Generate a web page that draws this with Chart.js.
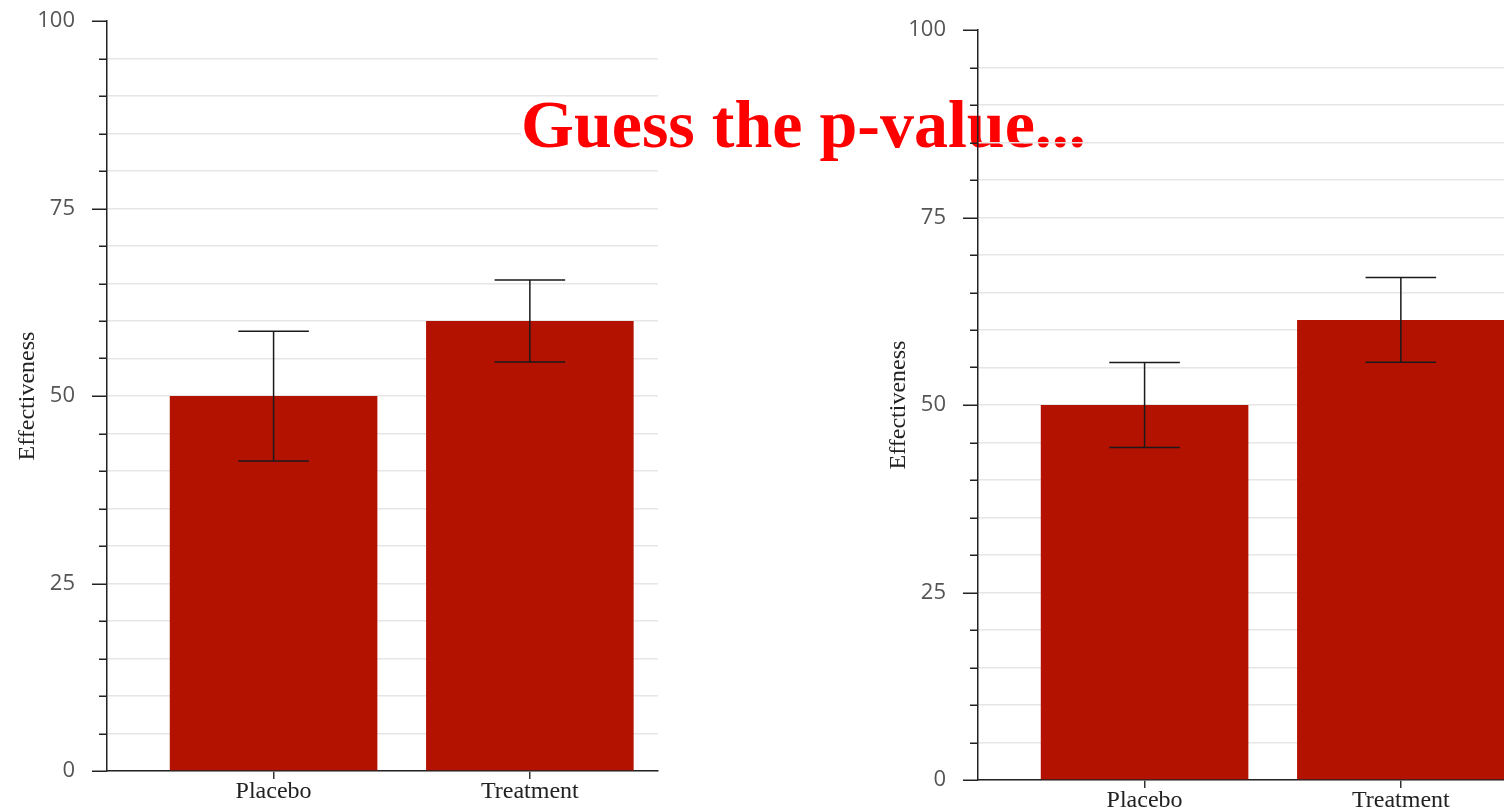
<!DOCTYPE html>
<html lang="en">
<head>
<meta charset="UTF-8">
<title>Guess the p-value</title>
<style>
    html, body {
        margin: 0;
        padding: 0;
        width: 1504px;
        height: 809px;
        overflow: hidden;
        background: #fff;
    }
    canvas { position: absolute; }
    #leftChart { left: 0; top: 0; }
    #rightChart { left: 871px; top: 9px; z-index: 2; }
    #title {
        position: absolute;
        left: 521px;
        top: 97px;
        z-index: 1;
        font: bold 68px "Liberation Serif", "Times New Roman", serif;
        line-height: 0.8;
        color: #ff0000;
        background: #fff;
        white-space: nowrap;
    }
</style>
</head>
<body>
<canvas id="leftChart" width="680" height="809"></canvas>
<div id="title">Guess the p-value...</div>
<canvas id="rightChart" width="680" height="809"></canvas>

<script src="https://cdn.jsdelivr.net/npm/chart.js"></script>
<script>
// data
const categories = ['Placebo', 'Treatment'];
const leftValues = [50, 60];
const leftErrors = [8.65, 5.47];
const rightValues = [50, 61.35];
const rightErrors = [5.66, 5.66];
const majorTicks = [0, 25, 50, 75, 100];

function makeChart(id, values, errors) {
    // error bars drawn on top of the bars
    const errorBars = {
        id: 'errorBars',
        afterDatasetsDraw(chart) {
            const ctx = chart.ctx;
            const y = chart.scales.y;
            chart.getDatasetMeta(0).data.forEach((bar, i) => {
                const top = y.getPixelForValue(values[i] + errors[i]);
                const bot = y.getPixelForValue(values[i] - errors[i]);
                const half = bar.width * 0.17;
                ctx.save();
                ctx.strokeStyle = '#1a1a1a';
                ctx.lineWidth = 1.5;
                ctx.beginPath();
                ctx.moveTo(bar.x, top); ctx.lineTo(bar.x, bot);
                ctx.moveTo(bar.x - half, top); ctx.lineTo(bar.x + half, top);
                ctx.moveTo(bar.x - half, bot); ctx.lineTo(bar.x + half, bot);
                ctx.stroke();
                ctx.restore();
            });
        }
    };

    // long ticks at labelled values, short ones between
    const yTicks = {
        id: 'yTicks',
        afterDraw(chart) {
            const ctx = chart.ctx;
            const y = chart.scales.y;
            const x0 = chart.chartArea.left;
            ctx.save();
            ctx.strokeStyle = '#222';
            ctx.lineWidth = 1.5;
            ctx.beginPath();
            y.ticks.forEach(t => {
                const py = Math.round(y.getPixelForValue(t.value)) + 0.25;
                const len = majorTicks.includes(t.value) ? 15 : 8;
                ctx.moveTo(x0 - len, py);
                ctx.lineTo(x0, py);
            });
            ctx.stroke();
            ctx.restore();
        }
    };

    return new Chart(document.getElementById(id), {
        type: 'bar',
        data: {
            datasets: [{
                data: values.map((v, i) => ({ x: i + 1, y: v })),
                backgroundColor: '#b41200',
                borderWidth: 0,
                barPercentage: 0.9,
                categoryPercentage: 0.9
            }]
        },
        options: {
            responsive: false,
            animation: false,
            layout: { padding: { top: 21, right: 22, left: 0, bottom: 0 } },
            plugins: {
                legend: { display: false },
                tooltip: { enabled: false }
            },
            scales: {
                x: {
                    type: 'linear',
                    min: 0.35,
                    max: 2.5,
                    offset: false,
                    afterBuildTicks(s) {
                        s.ticks = categories.map((c, i) => ({ value: i + 1 }));
                    },
                    afterFit(s) { s.height = 38; },
                    ticks: {
                        callback: (v, i) => categories[i],
                        font: { family: '"Liberation Serif", serif', size: 24 },
                        color: '#222',
                        padding: -2,
                        autoSkip: false,
                        maxRotation: 0
                    },
                    grid: {
                        offset: false,
                        drawOnChartArea: false,
                        tickLength: 8,
                        tickColor: '#333',
                        lineWidth: 1.5
                    },
                    border: { color: '#222', width: 1.5 }
                },
                y: {
                    min: 0,
                    max: 100,
                    afterFit(s) { s.width = 107; },
                    ticks: {
                        stepSize: 5,
                        callback: v => majorTicks.includes(v) ? v : '',
                        font: { family: '"Open Sans", sans-serif', size: 22 },
                        color: '#555',
                        padding: 2
                    },
                    grid: {
                        color: c => (c.tick && c.tick.value === 100) ? 'rgba(0,0,0,0)' : '#e6e6e6',
                        lineWidth: 1.5,
                        tickLength: 30,
                        tickColor: 'rgba(0,0,0,0)'
                    },
                    border: { color: '#222', width: 1.5 },
                    title: {
                        display: true,
                        text: 'Effectiveness',
                        font: { family: '"Liberation Serif", serif', size: 24 },
                        color: '#222',
                        padding: { top: 13, bottom: 4 }
                    }
                }
            }
        },
        plugins: [errorBars, yTicks]
    });
}

makeChart('leftChart', leftValues, leftErrors);
makeChart('rightChart', rightValues, rightErrors);
</script>
</body>
</html>
